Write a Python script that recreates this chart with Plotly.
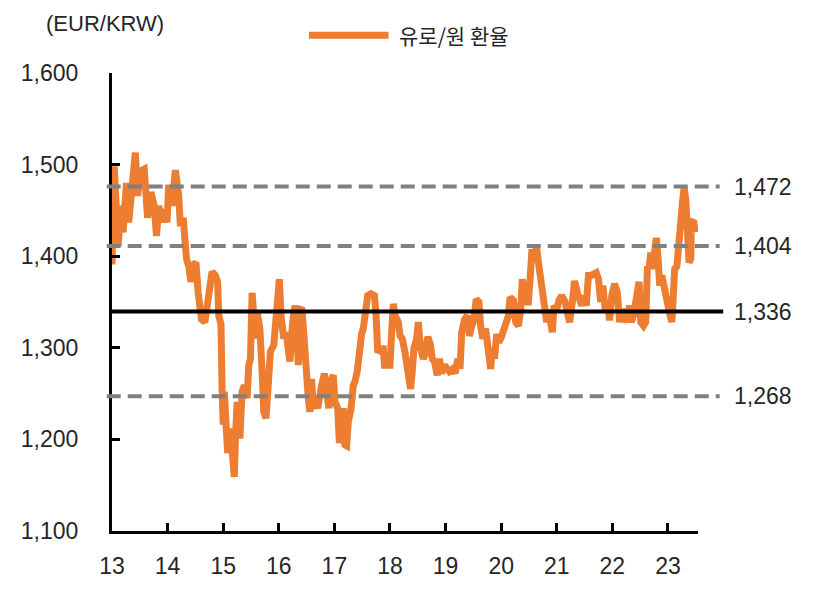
import plotly.graph_objects as go

# ---- data (decimal year as "YY.xx", EUR/KRW) ----
years = [
    13.00, 13.04, 13.11, 13.16, 13.20, 13.26, 13.30, 13.34, 13.37, 13.42,
    13.46, 13.52, 13.58, 13.64, 13.70, 13.76, 13.80, 13.84, 13.90, 13.93,
    13.99, 14.02, 14.08, 14.14, 14.20, 14.23, 14.28, 14.30, 14.34, 14.38,
    14.42, 14.47, 14.51, 14.55, 14.58, 14.61, 14.67, 14.71, 14.76, 14.80,
    14.86, 14.90, 14.92, 14.96, 14.98, 15.00, 15.02, 15.05, 15.08, 15.13,
    15.17, 15.20, 15.22, 15.25, 15.30, 15.34, 15.38, 15.43, 15.46, 15.49,
    15.52, 15.55, 15.58, 15.61, 15.66, 15.70, 15.73, 15.77, 15.82, 15.85,
    15.91, 15.94, 15.97, 16.01, 16.04, 16.09, 16.13, 16.16, 16.20, 16.25,
    16.29, 16.32, 16.35, 16.38, 16.41, 16.44, 16.47, 16.50, 16.53, 16.56,
    16.59, 16.62, 16.66, 16.70, 16.74, 16.77, 16.82, 16.86, 16.90, 16.95,
    16.98, 17.01, 17.06, 17.09, 17.13, 17.16, 17.19, 17.22, 17.25, 17.30,
    17.34, 17.37, 17.41, 17.46, 17.49, 17.52, 17.56, 17.60, 17.66, 17.72,
    17.75, 17.78, 17.84, 17.88, 17.90, 17.94, 18.00, 18.03, 18.06, 18.09,
    18.15, 18.18, 18.22, 18.27, 18.33, 18.37, 18.40, 18.43, 18.48, 18.51,
    18.55, 18.60, 18.64, 18.68, 18.73, 18.76, 18.80, 18.85, 18.89, 18.93,
    18.98, 19.03, 19.07, 19.13, 19.17, 19.22, 19.26, 19.29, 19.34, 19.39,
    19.43, 19.47, 19.51, 19.55, 19.60, 19.63, 19.67, 19.72, 19.76, 19.81,
    19.84, 19.88, 19.92, 19.96, 20.01, 20.07, 20.13, 20.16, 20.22, 20.26,
    20.31, 20.35, 20.38, 20.43, 20.49, 20.52, 20.55, 20.60, 20.64, 20.67,
    20.73, 20.76, 20.79, 20.82, 20.85, 20.88, 20.92, 20.95, 21.00, 21.04,
    21.09, 21.15, 21.19, 21.23, 21.28, 21.32, 21.37, 21.41, 21.45, 21.49,
    21.53, 21.57, 21.62, 21.68, 21.71, 21.75, 21.79, 21.83, 21.87, 21.92,
    21.95, 21.99, 22.04, 22.09, 22.13, 22.17, 22.22, 22.26, 22.31, 22.34,
    22.38, 22.42, 22.45, 22.48, 22.51, 22.56, 22.60, 22.63, 22.66, 22.69,
    22.72, 22.75, 22.79, 22.82, 22.85, 22.89, 22.93, 22.96, 23.00, 23.04,
    23.07, 23.09, 23.12, 23.16, 23.20, 23.23, 23.26, 23.29, 23.32, 23.35,
    23.38, 23.41, 23.42, 23.46, 23.49,
]
eur_krw = [
    1391, 1498, 1411, 1455, 1426, 1480, 1437, 1466, 1491, 1513,
    1466, 1493, 1495, 1442, 1470, 1455, 1422, 1455, 1437, 1451,
    1437, 1478, 1455, 1494, 1466, 1433, 1442, 1411, 1397, 1389,
    1372, 1391, 1393, 1360, 1339, 1331, 1328, 1346, 1360, 1383,
    1379, 1372, 1335, 1326, 1255, 1216, 1252, 1216, 1185, 1212,
    1183, 1159, 1201, 1241, 1201, 1252, 1259, 1245, 1281, 1288,
    1360, 1339, 1310, 1339, 1321, 1274, 1230, 1223, 1274, 1296,
    1303, 1324, 1364, 1375, 1335, 1310, 1317, 1296, 1285, 1328,
    1346, 1335, 1281, 1342, 1344, 1324, 1285, 1281, 1245, 1230,
    1266, 1234, 1241, 1234, 1252, 1259, 1272, 1241, 1234, 1266,
    1270, 1241, 1234, 1196, 1230, 1234, 1194, 1193, 1219, 1234,
    1259, 1263, 1274, 1306, 1315, 1321, 1339, 1357, 1359, 1357,
    1335, 1295, 1299, 1299, 1281, 1281, 1281, 1317, 1348, 1335,
    1328, 1313, 1310, 1295, 1274, 1255, 1274, 1299, 1310, 1328,
    1299, 1288, 1295, 1312, 1303, 1288, 1285, 1270, 1288, 1272,
    1281, 1277, 1274, 1277, 1272, 1288, 1277, 1317, 1331, 1335,
    1313, 1324, 1330, 1353, 1350, 1324, 1310, 1321, 1299, 1277,
    1300, 1288, 1315, 1306, 1313, 1324, 1335, 1355, 1352, 1328,
    1324, 1342, 1375, 1350, 1350, 1375, 1404, 1404, 1409, 1393,
    1368, 1364, 1346, 1328, 1342, 1324, 1317, 1346, 1342, 1352,
    1357, 1350, 1339, 1328, 1350, 1373, 1360, 1350, 1346, 1357,
    1346, 1379, 1379, 1381, 1382, 1375, 1350, 1368, 1342, 1346,
    1330, 1357, 1370, 1360, 1328, 1342, 1335, 1328, 1346, 1328,
    1335, 1350, 1368, 1372, 1328, 1324, 1328, 1389, 1386, 1404,
    1386, 1400, 1420, 1400, 1368, 1379, 1366, 1350, 1346, 1335,
    1328, 1350, 1386, 1389, 1408, 1437, 1458, 1475, 1462, 1422,
    1393, 1397, 1437, 1439, 1426,
]

x_ticks = [13, 14, 15, 16, 17, 18, 19, 20, 21, 22, 23]
x_tick_text = ["13", "14", "15", "16", "17", "18", "19", "20", "21", "22", "23"]
y_ticks = [1100, 1200, 1300, 1400, 1500, 1600]
y_tick_text = ["1,100", "1,200", "1,300", "1,400", "1,500", "1,600"]

# reference lines: drawn positions, labels as printed
ref_levels = [1476, 1411, 1339.5, 1247]
ref_labels = ["1,472", "1,404", "1,336", "1,268"]
ref_dashed = [True, True, False, True]

series_name = "유로/원 환율"
unit_label = "(EUR/KRW)"

ORANGE = "#ED7D31"
GRAY = "#808080"
TXT = "#262626"
NUM_FONT = "Liberation Sans"
KR_FONT = "Noto Sans CJK KR"

fig = go.Figure()
fig.add_trace(go.Scatter(
    x=years, y=eur_krw, mode="lines", name=series_name,
    line=dict(color=ORANGE, width=7), showlegend=False,
))

for lvl, lab, dashed in zip(ref_levels, ref_labels, ref_dashed):
    if dashed:
        fig.add_shape(type="line", xref="paper", yref="y", x0=-0.009, x1=1.037,
                      y0=lvl, y1=lvl, line=dict(color=GRAY, width=4, dash="14px,7px"),
                      layer="above")
    else:
        fig.add_shape(type="line", xref="paper", yref="y", x0=0.0, x1=1.043,
                      y0=lvl, y1=lvl, line=dict(color="black", width=4),
                      layer="above")
    fig.add_annotation(xref="paper", yref="y", x=1.058, y=lvl, text=lab,
                       showarrow=False, xanchor="left", yanchor="middle",
                       font=dict(family=NUM_FONT, size=23, color=TXT))

# legend (manual)
fig.add_shape(type="line", xref="paper", yref="paper", x0=0.336, x1=0.472,
              y0=1.0826, y1=1.0826, line=dict(color=ORANGE, width=7))
fig.add_annotation(xref="paper", yref="paper", x=0.486, y=1.0826, text=series_name,
                   showarrow=False, xanchor="left", yanchor="middle",
                   font=dict(family=KR_FONT, size=21, color=TXT))
# unit label
fig.add_annotation(xref="paper", yref="paper", x=-0.116, y=1.107, text=unit_label,
                   showarrow=False, xanchor="left", yanchor="middle",
                   font=dict(family=NUM_FONT, size=22, color=TXT))

# page body has an 8px margin, so the figure is drawn 8px smaller on each side
fig.update_layout(
    width=809, height=583,
    margin=dict(l=104, r=119, t=65, b=58),
    paper_bgcolor="white", plot_bgcolor="white",
    xaxis=dict(range=[13, 23.54], tickvals=x_ticks, ticktext=x_tick_text,
               showgrid=False, zeroline=False, showline=True, linecolor="black",
               linewidth=3, ticks="inside", ticklen=8, tickwidth=3, tickcolor="black",
               ticklabelstandoff=12,
               tickfont=dict(family=NUM_FONT, size=23, color=TXT)),
    yaxis=dict(range=[1100, 1600], tickvals=y_ticks, ticktext=y_tick_text,
               showgrid=False, zeroline=False, showline=True, linecolor="black",
               linewidth=3, ticks="inside", ticklen=8, tickwidth=3, tickcolor="black",
               ticklabelstandoff=26,
               tickfont=dict(family=NUM_FONT, size=23, color=TXT)),
    showlegend=False,
)

fig.write_html("out.html")
